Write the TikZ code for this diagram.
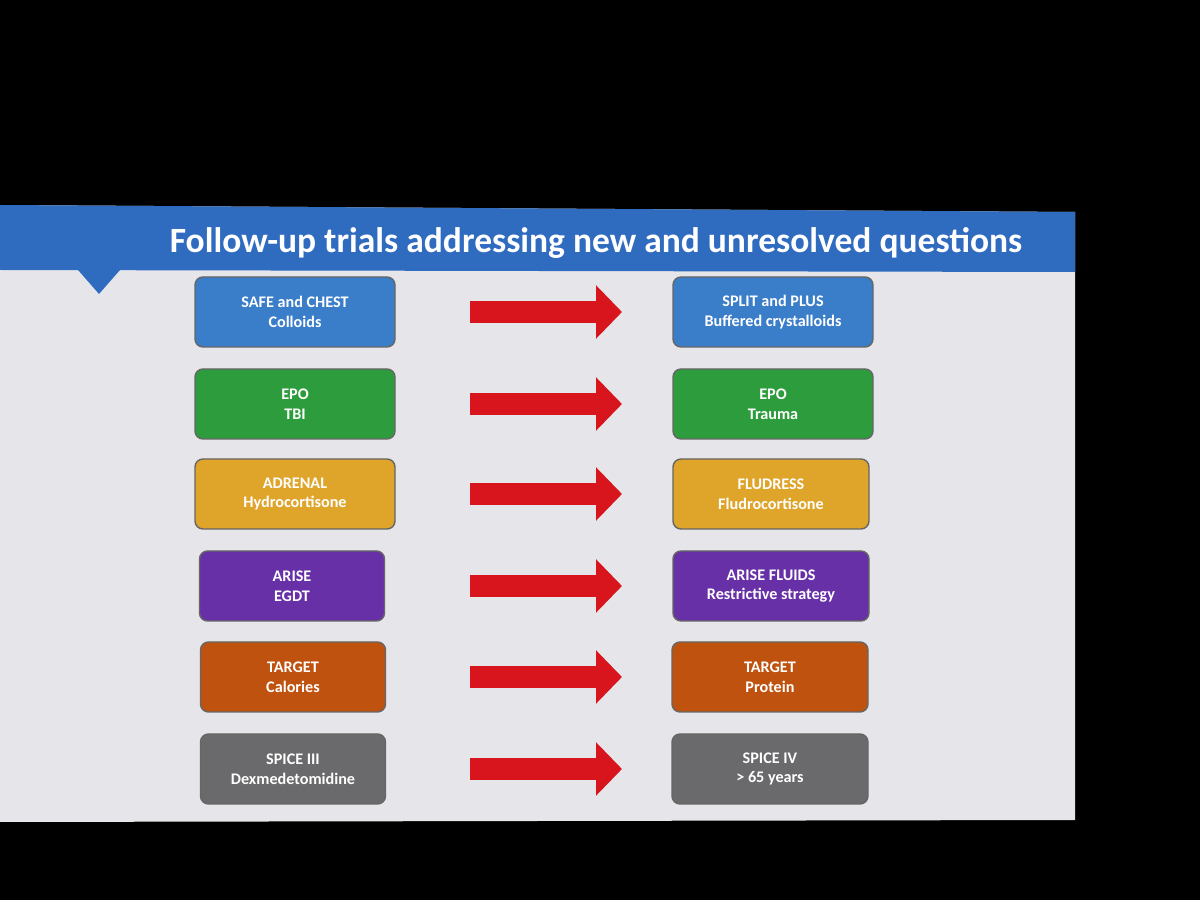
\documentclass[tikz,border=0pt]{standalone}
\usepackage{fontspec}
\setmainfont{Carlito}
\usetikzlibrary{calc,arrows.meta}
\definecolor{slidebg}{HTML}{E6E6EA}
\definecolor{headblue}{HTML}{2F6CC0}
\definecolor{cblue}{HTML}{3A7DC9}
\definecolor{cgreen}{HTML}{2D9C3C}
\definecolor{cgold}{HTML}{DFA42A}
\definecolor{cpurple}{HTML}{6730A6}
\definecolor{corange}{HTML}{C0520F}
\definecolor{cgray}{HTML}{6A6A6C}
\definecolor{arrowred}{HTML}{D8141C}
\tikzset{
  trial/.style={rounded corners=0.08cm, draw=black!60, minimum width=2cm, minimum height=0.7cm,
    align=center, text=white, font=\fontsize{4.6}{5.6}\selectfont\bfseries},
  fatarrow/.style={draw=arrowred, line width=0.22cm, -{Triangle[width=0.52cm,length=0.26cm]}}
}
\begin{document}
\begin{tikzpicture}
  \fill[black] (0,0) rectangle (12,9);
  \useasboundingbox (0,0) rectangle (12,9);
  % slide
  \fill[slidebg] (0,6.95) -- (10.75,6.88) -- (10.75,0.8) -- (0,0.78) -- cycle;
  \fill[headblue] (0,6.95) -- (10.75,6.88) -- (10.75,6.28) -- (0,6.3) -- cycle;
  \fill[headblue] (0.78,6.3) -- (1.2,6.3) -- (0.99,6.06) -- cycle;
  \node[text=white, font=\fontsize{10.1}{12}\selectfont\bfseries] (title) at (5.96,6.57)
    {Follow-up trials addressing new and unresolved questions};

  % left column
  \node[trial, fill=cblue]   (l1) at (2.95,5.88) {SAFE and CHEST\\Colloids};
  \node[trial, fill=cgreen]  (l2) at (2.95,4.96) {EPO\\TBI};
  \node[trial, fill=cgold]   (l3) at (2.95,4.06) {ADRENAL\\Hydrocortisone};
  \node[trial, fill=cpurple, minimum width=1.85cm] (l4) at (2.92,3.14) {ARISE\\EGDT};
  \node[trial, fill=corange, minimum width=1.85cm] (l5) at (2.93,2.23) {TARGET\\Calories};
  \node[trial, fill=cgray,   minimum width=1.85cm] (l6) at (2.93,1.31) {SPICE III\\Dexmedetomidine};

  % right column
  \node[trial, fill=cblue]   (r1) at (7.73,5.88) {SPLIT and PLUS\\Buffered crystalloids};
  \node[trial, fill=cgreen]  (r2) at (7.73,4.96) {EPO\\Trauma};
  \node[trial, fill=cgold, minimum width=1.96cm]   (r3) at (7.71,4.06) {FLUDRESS\\Fludrocortisone};
  \node[trial, fill=cpurple, minimum width=1.96cm] (r4) at (7.71,3.14) {ARISE FLUIDS\\Restrictive strategy};
  \node[trial, fill=corange, minimum width=1.96cm] (r5) at (7.70,2.23) {TARGET\\Protein};
  \node[trial, fill=cgray,   minimum width=1.96cm] (r6) at (7.70,1.31) {SPICE IV\\> 65 years};

  % arrows
  \coordinate (tail) at (4.7,0);
  \coordinate (tip) at (6.22,0);
  \foreach \i in {1,...,6}
    \draw[fatarrow] (l\i.east -| tail) -- (r\i.west -| tip);
\end{tikzpicture}
\end{document}
